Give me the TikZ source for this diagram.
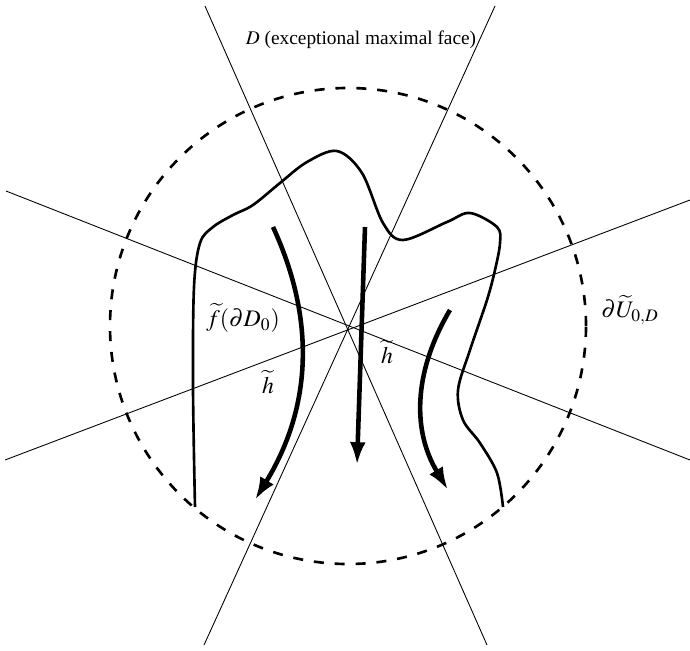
\documentclass[tikz,border=0pt]{standalone}
\usepackage{amsmath}
\usepackage{mathptmx}
\usepackage{fontspec}
\setmainfont{Liberation Serif}
\usetikzlibrary{arrows.meta}

\begin{document}
\begin{tikzpicture}[x=0.2mm, y=0.2mm,
  wall/.style={line width=0.5pt},
  boundary/.style={line width=1.5pt, dash pattern=on 5.7pt off 6.2pt},
  curve/.style={line width=1.5pt},
  flow/.style={line width=2.6pt, -{Latex[length=13pt,width=9pt]}},
  txt/.style={font=\fontsize{11}{13}\selectfont},
  lbl/.style={font=\fontsize{13.5}{15}\selectfont}]
  \useasboundingbox (-348,-323) rectangle (342,327);
  \coordinate (O) at (0,0);
  % walls through the centre
  \draw[wall] (-143,321) -- (139,-318);
  \draw[wall] (147,321) -- (-144,-318);
  \draw[wall] (-342,136) -- (342,-133);
  \draw[wall] (-343,-133) -- (342,127);
  % boundary of the neighbourhood
  \draw[boundary] (0,1) circle (238);
  % image of the boundary
  \draw[curve] plot[smooth, tension=0.55] coordinates {(-153,-180) (-155,-60) (-154,40)
    (-148,84) (-135,100) (-115,112) (-95,122) (-68,144) (-41,165) (-11,176) (14,154)
    (35,104) (55,87) (99,105) (122,114) (149,100) (152,84) (147,57) (139,27) (122,-23)
    (110,-63) (115,-93) (132,-116) (149,-146) (155,-180)};
  % flow lines
  \draw[flow] (-75,100) .. controls (-38,20) and (-30,-70) .. (-93,-173);
  \draw[flow] (17,100) -- (9,-138);
  \draw[flow] (102,17) .. controls (68,-40) and (62,-100) .. (100,-163);
  % labels
  \node[txt] (face) at (13,287) {$D$ (exceptional maximal face)};
  \node[lbl] (img) at (-105,9) {$\widetilde{f}(\partial D_0)$};
  \node[lbl] (hl) at (-80,-55) {$\widetilde{h}$};
  \node[lbl] (hm) at (39,-25) {$\widetilde{h}$};
  \node[lbl] (bd) at (282,17) {$\partial\widetilde{U}_{0,D}$};
\end{tikzpicture}
\end{document}
